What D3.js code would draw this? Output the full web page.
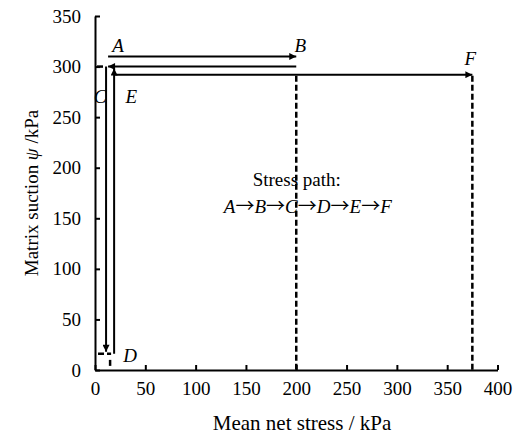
<!DOCTYPE html>
<html>
<head>
<meta charset="utf-8">
<script src="https://cdn.jsdelivr.net/npm/d3@7"></script>
<style>
  body { margin: 0; background: #fff; }
</style>
</head>
<body>
<div id="chart"></div>
<script>
const serif = "Liberation Serif";

// ticks
const xTicks = [0, 50, 100, 150, 200, 250, 300, 350, 400];
const yTicks = [0, 50, 100, 150, 200, 250, 300, 350];

// stress path segments (mean net stress p, suction s)
const arrowSegs = [
  {from: [13, 310], to: [200, 310]},   // A -> B
  {from: [200, 300], to: [13, 300]},   // B -> C
  {from: [11, 300], to: [11, 18]},     // C -> D
  {from: [19, 16], to: [19, 298]},     // D -> E
  {from: [20, 292], to: [375, 292]}    // E -> F
];

// dashed projection lines
const dashSegs = [
  {from: [200, 291], to: [200, 0]},
  {from: [375, 291], to: [375, 0]},
  {from: [2, 300], to: [10, 300]},
  {from: [3, 16], to: [16, 16]},
  {from: [15, 10], to: [15, 2]}
];

// point labels
const pointLabels = [
  {name: "A", p: 23, s: 314},
  {name: "B", p: 204, s: 314},
  {name: "F", p: 373, s: 302},
  {name: "C", p: 5, s: 264},
  {name: "E", p: 36, s: 264},
  {name: "D", p: 35, s: 8}
];

const pathOrder = ["A", "B", "C", "D", "E", "F"];

const margin = {top: 16, right: 20, bottom: 65, left: 95};
const W = 518, H = 435;
const width = 497.5 - margin.left;
const height = 370 - margin.top;

const svg = d3.select("#chart")
  .append("svg")
    .attr("width", W)
    .attr("height", H);

const defs = svg.append("defs");
defs.append("marker")
    .attr("id", "arr")
    .attr("viewBox", "0 0 10 10")
    .attr("refX", 10)
    .attr("refY", 5)
    .attr("markerUnits", "userSpaceOnUse")
    .attr("markerWidth", 12)
    .attr("markerHeight", 7)
    .attr("orient", "auto")
  .append("path")
    .attr("d", "M0,0 L10,5 L0,10 Z")
    .attr("fill", "#000");

const g = svg.append("g")
    .attr("transform", `translate(${margin.left}, ${margin.top})`);

const x = d3.scaleLinear().domain([0, 400]).range([0, width]);
const y = d3.scaleLinear().domain([0, 350]).range([height, 0]);

// x axis
const xAxis = g.append("g")
    .attr("transform", `translate(0, ${height})`)
    .call(d3.axisBottom(x).tickValues(xTicks).tickSize(-5).tickPadding(12).tickSizeOuter(0));
xAxis.select(".domain").attr("stroke-width", 2);
xAxis.selectAll(".tick line").attr("stroke-width", 2);
xAxis.selectAll(".tick text")
    .attr("fill", "#000")
    .style("font-family", serif)
    .style("font-size", "19px");

// y axis
const yAxis = g.append("g")
    .call(d3.axisLeft(y).tickValues(yTicks).tickSize(-5).tickPadding(14).tickSizeOuter(0));
yAxis.select(".domain").attr("stroke-width", 2);
yAxis.selectAll(".tick line").attr("stroke-width", 2);
yAxis.selectAll(".tick text")
    .attr("fill", "#000")
    .style("font-family", serif)
    .style("font-size", "19px");

// dashed lines
g.selectAll(".dash")
  .data(dashSegs)
  .join("line")
    .attr("class", "dash")
    .attr("x1", d => x(d.from[0]))
    .attr("y1", d => y(d.from[1]))
    .attr("x2", d => x(d.to[0]))
    .attr("y2", d => y(d.to[1]))
    .attr("stroke", "#000")
    .attr("stroke-width", 2.5)
    .attr("stroke-dasharray", "6,3");

// stress path arrows
g.selectAll(".seg")
  .data(arrowSegs)
  .join("line")
    .attr("class", "seg")
    .attr("x1", d => x(d.from[0]))
    .attr("y1", d => y(d.from[1]))
    .attr("x2", d => x(d.to[0]))
    .attr("y2", d => y(d.to[1]))
    .attr("stroke", "#000")
    .attr("stroke-width", 2)
    .attr("marker-end", "url(#arr)");

// point labels
g.selectAll(".plabel")
  .data(pointLabels)
  .join("text")
    .attr("class", "plabel")
    .attr("x", d => x(d.p))
    .attr("y", d => y(d.s))
    .attr("text-anchor", "middle")
    .style("font-family", serif)
    .style("font-size", "19px")
    .style("font-style", "italic")
    .text(d => d.name);

// stress path legend text
g.append("text")
    .attr("x", x(200.5))
    .attr("y", y(182))
    .attr("text-anchor", "middle")
    .style("font-family", serif)
    .style("font-size", "19px")
    .text("Stress path:");

const seq = g.append("text")
    .attr("x", x(211.5))
    .attr("y", y(155.5))
    .attr("text-anchor", "middle")
    .style("font-family", serif)
    .style("font-size", "19px");
pathOrder.forEach((n, i) => {
  if (i > 0) seq.append("tspan")
      .style("font-family", "Noto Sans CJK SC")
      .text("\u2192");
  seq.append("tspan").style("font-style", "italic").text(n);
});

// axis labels
svg.append("text")
    .attr("x", 302)
    .attr("y", 430)
    .attr("text-anchor", "middle")
    .style("font-family", serif)
    .style("font-size", "21px")
    .text("Mean net stress / kPa");

const yl = svg.append("text")
    .attr("transform", "translate(38, 193) rotate(-90)")
    .attr("text-anchor", "middle")
    .style("font-family", serif)
    .style("font-size", "19px");
yl.append("tspan").text("Matrix suction ");
yl.append("tspan").style("font-style", "italic").text("\u03c8");
yl.append("tspan").text(" /kPa");
</script>
</body>
</html>
